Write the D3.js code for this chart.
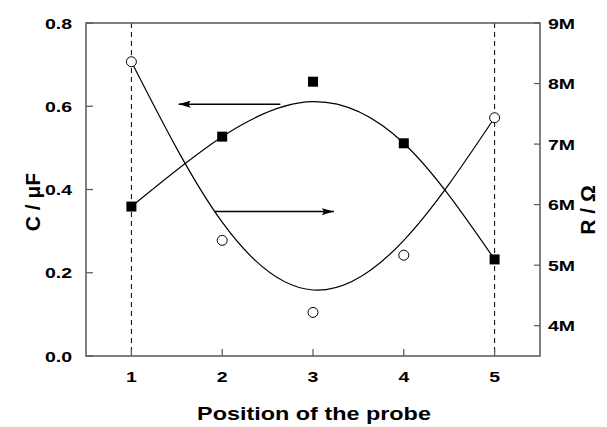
<!DOCTYPE html>
<html>
<head>
<meta charset="utf-8">
<script src="https://cdn.jsdelivr.net/npm/d3@7"></script>
<style>
  body { margin: 0; background: #fff; }
  text { font-family: "Liberation Sans", Arial, sans-serif; font-weight: bold; fill: #000; }
</style>
</head>
<body>
<div id="chart"></div>
<script>
// Probe positions and measured values
const positions = [1, 2, 3, 4, 5];
const capacitance = [0.359, 0.527, 0.659, 0.511, 0.232];         // C / uF (filled squares, left axis)
const resistance = [8.36e6, 5.41e6, 4.22e6, 5.165e6, 7.435e6];   // R / Ohm (open circles, right axis)
// fitted curves, read at the probe positions
const capacitanceFit = [0.359, 0.527, 0.611, 0.511, 0.232];
const resistanceFit = [8.36e6, 5.71e6, 4.59e6, 5.41e6, 7.435e6];

const xTicks = [1, 2, 3, 4, 5];
const leftTicks = [0.0, 0.2, 0.4, 0.6, 0.8];
const rightTicks = [4e6, 5e6, 6e6, 7e6, 8e6, 9e6];
const dashedAt = [1, 5];

// arrows pointing to the axis each series belongs to (data coords)
const arrowLeft = {x1: 2.64, x2: 1.52, y: 0.605};
const arrowRight = {x1: 1.92, x2: 3.23, y: 5.885e6};

function ProbeGraph(divID) {
  const widthContainer = 607;
  const heightContainer = 427;
  const margin = {top: 23, left: 86, right: 67, bottom: 71};
  const fontSize = '15px';
  const stretch = 1.3;
  const axisColor = '#555';

  d3.select('#' + divID).selectAll('*').remove();

  const svg = d3.select('#' + divID)
    .append('svg')
    .attr('width', widthContainer)
    .attr('height', heightContainer);

  const xScale = d3.scaleLinear()
    .domain([0.5, 5.5])
    .range([margin.left, widthContainer - margin.right]);

  const yLeft = d3.scaleLinear()
    .domain([0, 0.8])
    .range([heightContainer - margin.bottom, margin.top]);

  const yRight = d3.scaleLinear()
    .domain([3.5e6, 9e6])
    .range([heightContainer - margin.bottom, margin.top]);

  const x0 = margin.left, x1 = widthContainer - margin.right;
  const y0 = heightContainer - margin.bottom, y1 = margin.top;

  // stretched label helper (horizontal text only)
  const label = (x, y, txt, anchor, size) => {
    svg.append('g')
      .attr('transform', `translate(${x},${y}) scale(${stretch},1)`)
      .append('text')
      .attr('text-anchor', anchor)
      .style('font-size', size)
      .text(txt);
  };

  // rotated axis title
  const vLabel = (x, y, txt, size) => {
    svg.append('text')
      .attr('transform', `translate(${x},${y}) rotate(-90)`)
      .attr('text-anchor', 'middle')
      .style('font-size', size)
      .text(txt);
  };

  // dashed lines at the end probes
  svg.selectAll('.dash')
    .data(dashedAt)
    .enter()
    .append('line')
    .attr('x1', d => xScale(d)).attr('x2', d => xScale(d))
    .attr('y1', y1).attr('y2', y0)
    .attr('stroke', '#000')
    .attr('stroke-width', 1)
    .attr('stroke-dasharray', '5,4');

  // frame
  svg.append('rect')
    .attr('x', x0).attr('y', y1)
    .attr('width', x1 - x0).attr('height', y0 - y1)
    .attr('fill', 'none')
    .attr('stroke', axisColor)
    .attr('stroke-width', 1.5);

  // ticks (inward)
  svg.selectAll('.xtick').data(xTicks).enter().append('line')
    .attr('x1', d => xScale(d)).attr('x2', d => xScale(d))
    .attr('y1', y0).attr('y2', y0 - 7)
    .attr('stroke', axisColor).attr('stroke-width', 1.2);
  svg.selectAll('.ltick').data(leftTicks).enter().append('line')
    .attr('x1', x0).attr('x2', x0 + 7)
    .attr('y1', d => yLeft(d)).attr('y2', d => yLeft(d))
    .attr('stroke', axisColor).attr('stroke-width', 1.2);
  svg.selectAll('.rtick').data(rightTicks).enter().append('line')
    .attr('x1', x1).attr('x2', x1 - 6)
    .attr('y1', d => yRight(d)).attr('y2', d => yRight(d))
    .attr('stroke', axisColor).attr('stroke-width', 1.2);

  // tick labels
  xTicks.forEach(d => label(xScale(d), y0 + 26, d, 'middle', fontSize));
  leftTicks.forEach(d => label(x0 - 14, yLeft(d) + 5.5, d3.format('.1f')(d), 'end', fontSize));
  rightTicks.forEach(d => label(x1 + 8, yRight(d) + 5.5, (d / 1e6) + 'M', 'start', fontSize));

  // axis titles
  label((x0 + x1) / 2 + 1, heightContainer - 7, 'Position of the probe', 'middle', '18px');
  vLabel(40, 202, 'C / \u03bcF', '21px');
  vLabel(595, 210, 'R / \u03a9', '21px');

  // fitted curves
  const lineLeft = d3.line()
    .x((d, i) => xScale(positions[i]))
    .y(d => yLeft(d))
    .curve(d3.curveNatural);
  const lineRight = d3.line()
    .x((d, i) => xScale(positions[i]))
    .y(d => yRight(d))
    .curve(d3.curveNatural);

  svg.append('path')
    .attr('d', lineLeft(capacitanceFit))
    .attr('fill', 'none').attr('stroke', '#000').attr('stroke-width', 1.2);
  svg.append('path')
    .attr('d', lineRight(resistanceFit))
    .attr('fill', 'none').attr('stroke', '#000').attr('stroke-width', 1.2);

  // arrows
  svg.append('defs').append('marker')
    .attr('id', 'arrowHead')
    .attr('viewBox', '0 0 12 7')
    .attr('refX', 12).attr('refY', 3.5)
    .attr('markerWidth', 12).attr('markerHeight', 7)
    .attr('markerUnits', 'userSpaceOnUse')
    .attr('orient', 'auto')
    .append('path')
    .attr('d', 'M0,0 L12,3.5 L0,7 L2,3.5 Z')
    .attr('fill', '#000');

  svg.append('line')
    .attr('x1', xScale(arrowLeft.x1)).attr('x2', xScale(arrowLeft.x2))
    .attr('y1', yLeft(arrowLeft.y)).attr('y2', yLeft(arrowLeft.y))
    .attr('stroke', '#000').attr('stroke-width', 1.5)
    .attr('marker-end', 'url(#arrowHead)');
  svg.append('line')
    .attr('x1', xScale(arrowRight.x1)).attr('x2', xScale(arrowRight.x2))
    .attr('y1', yRight(arrowRight.y)).attr('y2', yRight(arrowRight.y))
    .attr('stroke', '#000').attr('stroke-width', 1.5)
    .attr('marker-end', 'url(#arrowHead)');

  // data markers
  const squareSize = 10;
  svg.selectAll('.sq')
    .data(capacitance)
    .enter()
    .append('rect')
    .attr('x', (d, i) => xScale(positions[i]) - squareSize / 2)
    .attr('y', d => yLeft(d) - squareSize / 2)
    .attr('width', squareSize).attr('height', squareSize)
    .attr('fill', '#000');

  svg.selectAll('.circ')
    .data(resistance)
    .enter()
    .append('circle')
    .attr('cx', (d, i) => xScale(positions[i]))
    .attr('cy', d => yRight(d))
    .attr('r', 5)
    .attr('fill', '#fff')
    .attr('stroke', '#000')
    .attr('stroke-width', 1);
}

ProbeGraph('chart');
</script>
</body>
</html>
